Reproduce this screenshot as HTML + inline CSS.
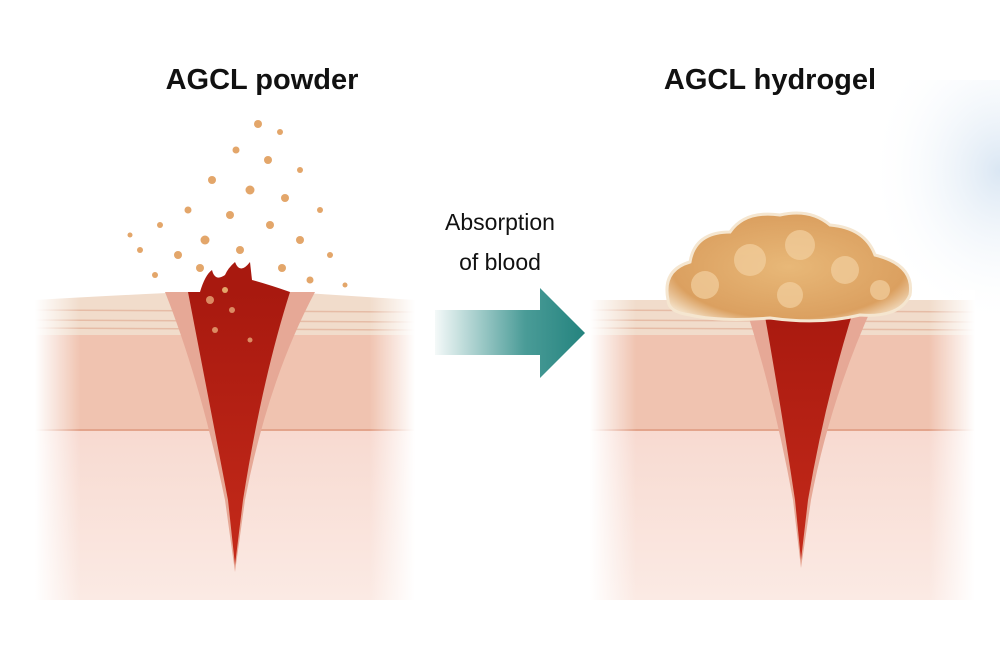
<!DOCTYPE html>
<html><head><meta charset="utf-8"><style>
html,body{margin:0;padding:0;background:#fff;}
svg{display:block}
text{font-family:"Liberation Sans",sans-serif;}
</style></head><body>
<svg width="1000" height="666" viewBox="0 0 1000 666" xmlns="http://www.w3.org/2000/svg">
<defs>
<linearGradient id="derm" x1="0" y1="0" x2="0" y2="1">
<stop offset="0" stop-color="#f3c9bd"/><stop offset="0.5" stop-color="#f8dcd3"/><stop offset="1" stop-color="#fbeae4"/>
</linearGradient>
<linearGradient id="fadeL" x1="0" y1="0" x2="1" y2="0">
<stop offset="0" stop-color="#fff" stop-opacity="1"/><stop offset="0.12" stop-color="#fff" stop-opacity="0"/>
<stop offset="0.88" stop-color="#fff" stop-opacity="0"/><stop offset="1" stop-color="#fff" stop-opacity="1"/>
</linearGradient>
<linearGradient id="arrow" x1="0" y1="0" x2="1" y2="0">
<stop offset="0" stop-color="#2a8a85" stop-opacity="0.05"/><stop offset="0.6" stop-color="#2a8a85" stop-opacity="0.85"/><stop offset="1" stop-color="#24837e"/>
</linearGradient>
<radialGradient id="gel" cx="0.5" cy="0.5" r="0.6">
<stop offset="0" stop-color="#e8b878"/><stop offset="0.8" stop-color="#dba060"/><stop offset="1" stop-color="#f2dcc0"/>
</radialGradient>
<linearGradient id="blood" x1="0" y1="0" x2="0" y2="1">
<stop offset="0" stop-color="#a8190f"/><stop offset="1" stop-color="#c42a1a"/>
</linearGradient>
<radialGradient id="blue" cx="1" cy="0.35" r="0.6">
<stop offset="0" stop-color="#d6e4f2" stop-opacity="0.9"/><stop offset="1" stop-color="#fff" stop-opacity="0"/>
</radialGradient>
</defs>
<rect x="780" y="80" width="220" height="260" fill="url(#blue)"/>

<g id="skinL">
<rect x="35" y="300" width="380" height="300" fill="url(#derm)"/>
<path d="M35 300 Q120 295 190 292 L290 292 Q350 296 415 300 L415 335 L35 335 Z" fill="#f1dccb"/>
<path d="M35 310 L415 312 M35 320 L415 322 M35 328 L415 330" stroke="#e6bca6" stroke-width="1.5" fill="none"/>
<rect x="35" y="335" width="380" height="95" fill="#f0c3b0"/>
<path d="M35 430 L415 430" stroke="#e3a48c" stroke-width="2"/>
<path d="M165 292 Q200 380 225 500 L235 572 L245 500 Q268 380 315 292 Z" fill="#e6a896"/>
<path d="M188 292 Q205 380 228 500 L235 565 L243 500 Q262 380 290 292 Z" fill="url(#blood)"/>
<path d="M200 292 Q205 275 212 270 Q215 282 225 275 Q228 268 235 262 Q240 275 250 262 L252 280 Q270 285 290 292 Z" fill="#a8190f"/>
<g fill="#e8a878" opacity="0.8"><circle cx="210" cy="300" r="4"/><circle cx="232" cy="310" r="3"/><circle cx="215" cy="330" r="3"/><circle cx="250" cy="340" r="2.5"/></g>
<rect x="35" y="290" width="380" height="312" fill="url(#fadeL)"/>
</g>
<g transform="translate(555,0)">
<rect x="35" y="300" width="385" height="300" fill="url(#derm)"/>
<path d="M35 300 L420 300 L420 335 L35 335 Z" fill="#f1dccb"/>
<path d="M35 310 L420 312 M35 320 L420 322 M35 328 L420 330" stroke="#e6bca6" stroke-width="1.5" fill="none"/>
<rect x="35" y="335" width="385" height="95" fill="#f0c3b0"/>
<path d="M35 430 L420 430" stroke="#e3a48c" stroke-width="2"/>
<path d="M190 305 Q220 400 238 500 L246 568 L256 500 Q275 400 318 305 Z" fill="#e6a896"/>
<path d="M208 305 Q225 400 240 500 L246 560 L253 500 Q270 400 300 305 Z" fill="url(#blood)"/>
<rect x="35" y="290" width="385" height="312" fill="url(#fadeL)"/>
</g>

<path d="M668 300 Q662 270 690 262 Q695 232 730 232 Q745 210 780 215 Q810 208 830 225 Q865 228 875 255 Q915 265 910 295 Q900 318 860 315 Q820 325 770 318 Q720 322 690 315 Q668 312 668 300 Z" fill="url(#gel)" stroke="#f5e6d0" stroke-width="3"/>
<g fill="#f3d0a0" opacity="0.7">
<circle cx="705" cy="285" r="14"/><circle cx="750" cy="260" r="16"/><circle cx="800" cy="245" r="15"/><circle cx="845" cy="270" r="14"/><circle cx="790" cy="295" r="13"/><circle cx="880" cy="290" r="10"/>
</g>

<g fill="#e3a66a">
<circle cx="258" cy="124" r="4"/><circle cx="280" cy="132" r="3"/><circle cx="236" cy="150" r="3.5"/><circle cx="268" cy="160" r="4"/><circle cx="300" cy="170" r="3"/>
<circle cx="212" cy="180" r="4"/><circle cx="250" cy="190" r="4.5"/><circle cx="285" cy="198" r="4"/><circle cx="188" cy="210" r="3.5"/><circle cx="230" cy="215" r="4"/>
<circle cx="320" cy="210" r="3"/><circle cx="160" cy="225" r="3"/><circle cx="270" cy="225" r="4"/><circle cx="205" cy="240" r="4.5"/><circle cx="300" cy="240" r="4"/>
<circle cx="140" cy="250" r="3"/><circle cx="178" cy="255" r="4"/><circle cx="240" cy="250" r="4"/><circle cx="330" cy="255" r="3"/><circle cx="155" cy="275" r="3"/>
<circle cx="200" cy="268" r="4"/><circle cx="282" cy="268" r="4"/><circle cx="310" cy="280" r="3.5"/><circle cx="130" cy="235" r="2.5"/><circle cx="225" cy="290" r="3"/><circle cx="345" cy="285" r="2.5"/>
</g>

<path d="M435 310 L540 310 L540 288 L585 333 L540 378 L540 355 L435 355 Z" fill="url(#arrow)"/>

<text x="262" y="89" font-size="29" font-weight="bold" text-anchor="middle" fill="#111">AGCL powder</text>
<text x="770" y="89" font-size="29" font-weight="bold" text-anchor="middle" fill="#111">AGCL hydrogel</text>
<text x="500" y="230" font-size="23" text-anchor="middle" fill="#111">Absorption</text>
<text x="500" y="270" font-size="23" text-anchor="middle" fill="#111">of blood</text>
</svg>
</body></html>
